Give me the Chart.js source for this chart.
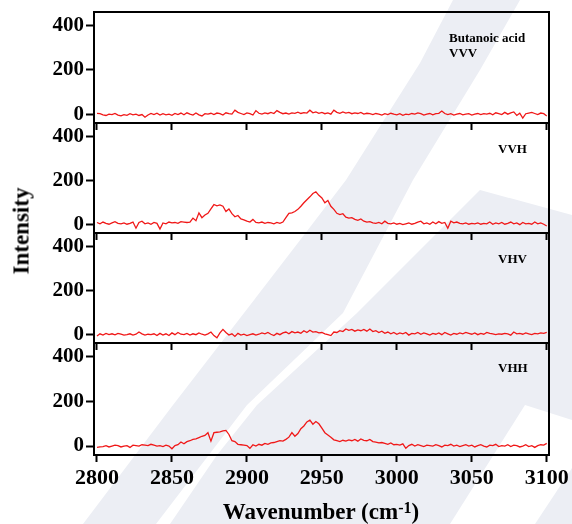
<!DOCTYPE html>
<html>
<head>
<meta charset="utf-8">
<script src="https://cdn.jsdelivr.net/npm/chart.js@4.4.1/dist/chart.umd.min.js"></script>
<style>
  html,body{margin:0;padding:0;background:#fff;}
  #wrap{position:relative;width:572px;height:524px;overflow:hidden;background:#fff;font-family:'Liberation Serif','Times New Roman',serif;font-weight:bold;color:#000;}
  #wrap canvas{position:absolute;left:0;}
  .lbl{position:absolute;font-size:13px;line-height:13px;white-space:nowrap;}
  #ytitle{position:absolute;left:21px;top:231px;font-size:23px;line-height:23px;transform:translate(-50%,-50%) rotate(-90deg);white-space:nowrap;}
  #xtitle{position:absolute;left:321px;top:500px;font-size:23px;line-height:23px;transform:translateX(-50%);white-space:nowrap;}
  #xtitle sup{font-size:16px;position:relative;top:-4px;vertical-align:top;}
  svg{position:absolute;left:0;top:0;}
</style>
</head>
<body>
<div id="wrap">
  <!-- faint background watermark -->
  <svg width="572" height="524">
    <g fill="#eceef4">
      <polygon points="453,0 520,0 480,70 413,180 343,313 247,405 156,524 83,524 173,405 244,313 304,235 346,180 420,63"/>
      <polygon points="170,524 217,455 257,405 357,313 480,190 572,215 572,524"/>
    </g>
    <g fill="#ffffff">
      <polygon points="450,524 525,405 572,420 572,468 535,524"/>
    </g>
  </svg>
  <canvas id="p0"></canvas>
  <canvas id="p1"></canvas>
  <canvas id="p2"></canvas>
  <canvas id="p3"></canvas>
  <div class="lbl" style="left:449px;top:31px;">Butanoic acid</div>
  <div class="lbl" style="left:449px;top:46px;">VVV</div>
  <div class="lbl" style="left:498px;top:142px;">VVH</div>
  <div class="lbl" style="left:498px;top:252px;">VHV</div>
  <div class="lbl" style="left:498px;top:361px;">VHH</div>
  <div id="ytitle">Intensity</div>
  <div id="xtitle">Wavenumber (cm<sup>-1</sup>)</div>
</div>
<script>
const wavenumbers=[
  2800,2802,2804,2806,2808,2810,2812,2814,2816,2818,
  2820,2822,2824,2826,2828,2830,2832,2834,2836,2838,
  2840,2842,2844,2846,2848,2850,2852,2854,2856,2858,
  2860,2862,2864,2866,2868,2870,2872,2874,2876,2878,
  2880,2882,2884,2886,2888,2890,2892,2894,2896,2898,
  2900,2902,2904,2906,2908,2910,2912,2914,2916,2918,
  2920,2922,2924,2926,2928,2930,2932,2934,2936,2938,
  2940,2942,2944,2946,2948,2950,2952,2954,2956,2958,
  2960,2962,2964,2966,2968,2970,2972,2974,2976,2978,
  2980,2982,2984,2986,2988,2990,2992,2994,2996,2998,
  3000,3002,3004,3006,3008,3010,3012,3014,3016,3018,
  3020,3022,3024,3026,3028,3030,3032,3034,3036,3038,
  3040,3042,3044,3046,3048,3050,3052,3054,3056,3058,
  3060,3062,3064,3066,3068,3070,3072,3074,3076,3078,
  3080,3082,3084,3086,3088,3090,3092,3094,3096,3098,
  3100
];

const vvv=[
  4,2,-3,-6,0,-2,3,-4,-8,-2,
  -5,2,-3,0,-6,-2,-14,-4,3,-2,
  4,-4,2,-3,0,-5,3,-2,5,-3,
  6,0,-4,5,-3,-8,2,0,4,-2,
  5,2,-4,6,2,0,18,8,3,-2,
  6,2,-4,16,4,0,6,2,8,3,
  16,8,2,5,0,6,4,9,3,7,
  5,18,6,10,4,8,2,6,0,18,
  8,4,10,5,8,2,6,3,8,0,
  4,2,-2,3,0,-4,2,-2,4,0,
  -3,2,-5,0,-2,3,0,6,2,-4,
  0,3,-3,2,4,14,3,-2,2,-4,
  0,3,-3,0,2,-4,0,3,-2,2,
  0,4,-3,6,2,-2,8,0,6,10,
  -6,4,-18,2,5,8,3,-2,5,2,
  -8
];

const vvh=[
  8,2,10,4,0,6,12,4,2,6,
  0,4,10,-18,8,14,2,6,0,8,
  4,-22,6,2,10,6,8,4,12,10,
  8,10,28,16,52,30,42,50,70,90,
  84,88,82,58,70,48,34,40,24,20,
  14,10,22,8,6,10,4,8,6,2,
  8,4,10,30,50,52,58,68,82,98,
  112,125,140,148,132,120,98,108,82,68,
  50,44,48,32,28,30,22,18,24,14,
  10,12,6,4,8,2,14,4,2,6,
  0,4,-2,2,6,0,4,10,14,2,
  6,0,10,2,12,4,8,-18,14,6,
  10,4,2,6,0,4,2,6,0,4,
  2,10,0,6,2,8,0,4,10,2,
  6,-2,8,2,4,0,10,2,6,0,
  -8
];

const vhv=[
  -8,2,-4,4,-2,2,-3,4,0,-4,
  -2,2,-4,0,10,2,-4,0,-2,2,
  -6,4,-4,2,-6,6,-2,8,0,-2,
  4,-4,2,-2,6,0,-4,2,10,-6,
  -16,6,22,8,-4,2,-10,4,-4,0,
  -6,-2,2,-4,0,6,2,8,0,-6,
  4,-2,6,10,2,12,6,10,4,16,
  8,18,10,12,6,8,2,-2,-6,10,
  8,16,12,24,18,22,14,20,16,22,
  14,24,12,16,8,14,4,10,2,8,
  0,6,2,8,-4,4,2,8,0,6,
  2,-4,4,0,6,-2,8,2,-4,4,
  0,6,2,8,4,0,6,-2,4,0,
  8,4,2,-2,2,0,4,2,-4,10,
  2,4,0,6,2,-2,4,2,6,4,
  8
];

const vhh=[
  -6,-4,-2,2,-4,0,4,2,-4,0,
  2,-6,4,2,0,6,4,2,8,4,
  0,2,-2,4,0,-12,2,6,18,10,
  20,24,30,32,38,44,48,60,22,60,
  62,64,68,70,52,24,20,8,6,4,
  2,-10,6,0,8,4,12,8,14,16,
  20,24,22,30,40,60,44,56,78,90,
  108,116,98,110,100,80,60,50,40,28,
  24,20,26,22,28,24,30,22,32,26,
  24,30,20,18,14,16,12,8,14,6,
  8,4,10,-10,2,8,0,6,2,-2,
  4,2,0,6,2,-4,4,2,8,0,
  4,-2,2,6,0,4,-4,2,6,0,
  -4,4,2,8,-2,2,0,6,-2,4,
  2,-4,0,6,-2,2,-6,2,6,4,
  12
];

const panelSeries=[vvv,vvh,vhv,vhh];
const panelTops=[12,123,233,343];
const panelBottoms=[123,233,343,455];

const PAD_TOP=4;
const AXIS_W=94;
const PAD_RIGHT=23;
const FONT_FAMILY="'Liberation Serif','Times New Roman',serif";

const framePlugin={
  id:'frame',
  afterDatasetsDraw(chart){
    const {ctx,chartArea:a}=chart;
    ctx.save();
    ctx.strokeStyle='#000';
    ctx.lineWidth=2;
    ctx.strokeRect(a.left,a.top,a.right-a.left,a.bottom-a.top);
    ctx.restore();
  }
};

// drop the automatic label padding so the plot area sits exactly where we want it
function noPad(s){
  s.paddingTop=0;
  s.paddingBottom=0;
  s.paddingLeft=0;
  s.paddingRight=0;
}

function makePanel(idx){
  const canvas=document.getElementById('p'+idx);
  const last=idx===panelSeries.length-1;
  const axisH=last?46:12;
  const plotH=panelBottoms[idx]-panelTops[idx];
  canvas.width=572;
  canvas.height=PAD_TOP+plotH+axisH;
  canvas.style.top=(panelTops[idx]-PAD_TOP)+'px';
  const values=panelSeries[idx];
  return new Chart(canvas,{
    type:'line',
    data:{datasets:[{
      data:wavenumbers.map((w,i)=>({x:w,y:values[i]})),
      borderColor:'#f01818',
      borderWidth:1.3,
      pointRadius:0,
      tension:0,
      fill:false
    }]},
    options:{
      responsive:false,
      animation:false,
      events:[],
      layout:{padding:{top:PAD_TOP,left:0,right:PAD_RIGHT,bottom:0}},
      plugins:{legend:{display:false},tooltip:{enabled:false}},
      scales:{
        x:{
          type:'linear',
          min:2798,
          max:3101.5,
          afterFit:s=>{s.height=axisH;noPad(s);},
          border:{display:false},
          grid:{drawOnChartArea:false,drawTicks:true,tickLength:7,tickWidth:2,tickColor:'#000'},
          ticks:{display:last,stepSize:50,includeBounds:false,color:'#000',padding:3,maxRotation:0,
            callback:v=>String(v),
            font:{family:FONT_FAMILY,size:22,weight:'bold'}}
        },
        y:{
          min:-40,
          max:462,
          afterFit:s=>{s.width=AXIS_W;noPad(s);},
          border:{display:false},
          grid:{drawOnChartArea:false,drawTicks:true,tickLength:8,tickWidth:2,tickColor:'#000'},
          ticks:{stepSize:200,includeBounds:false,color:'#000',padding:2,
            callback:v=>String(v),
            font:{family:FONT_FAMILY,size:21,weight:'bold'}}
        }
      }
    },
    plugins:[framePlugin]
  });
}

panelSeries.forEach((s,i)=>makePanel(i));
</script>
</body>
</html>
